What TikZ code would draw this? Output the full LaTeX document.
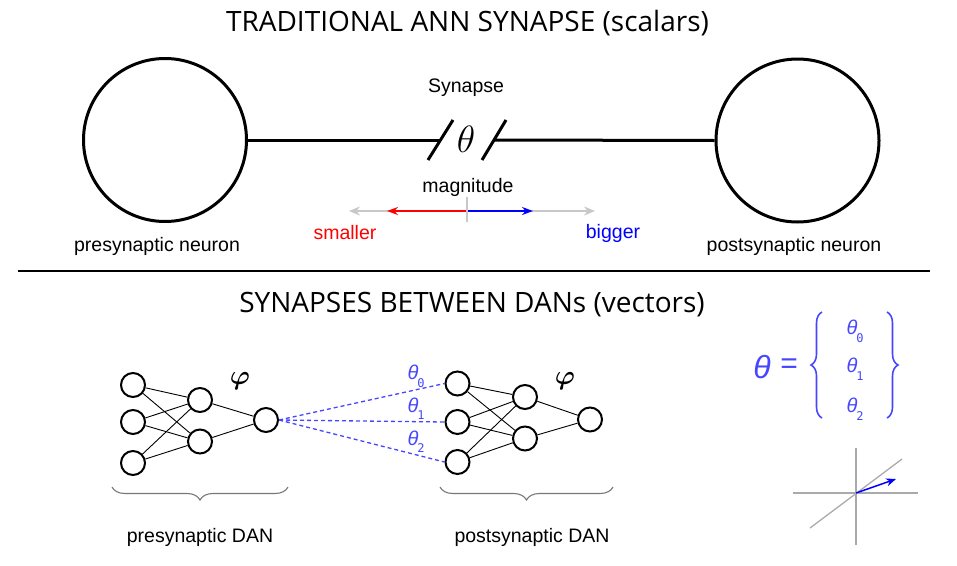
\RequirePackage{fix-cm}
\documentclass[tikz,border=0pt]{standalone}
\usepackage{fontspec}
\usepackage{amsmath}
\setmainfont{Liberation Sans}
\newfontfamily\titlefont{Open Sans}
\newfontfamily\monofont{DejaVu Sans Mono}
\usetikzlibrary{arrows.meta,decorations.pathreplacing}
\definecolor{lblue}{RGB}{70,70,255}
\definecolor{lgray}{RGB}{200,200,200}
\definecolor{agray}{RGB}{170,170,170}
\definecolor{bgray}{RGB}{120,120,120}
\tikzset{
  bignode/.style={circle, draw, line width=3pt, minimum size=163pt, inner sep=0pt},
  nn/.style={circle, draw, line width=2pt, minimum size=24pt, inner sep=0pt},
  conn/.style={line width=0.9pt},
  title/.style={font=\titlefont\fontsize{28}{32}\selectfont},
  lbl/.style={font=\fontsize{19.5}{22}\selectfont},
  syn/.style={dashed, dash pattern=on 4pt off 3pt, line width=1.3pt, lblue},
  thlbl/.style={font=\fontsize{20}{22}\selectfont\itshape, text=lblue},
  sublbl/.style={font=\monofont\fontsize{12}{14}\selectfont, text=lblue},
  gbrace/.style={decorate, decoration={brace, amplitude=13pt, mirror}, draw=bgray, line width=1.1pt},
  bbrace/.style={decorate, decoration={brace, amplitude=11pt}, draw=lblue, line width=1.6pt},
  phil/.style={font=\fontsize{27}{30}\selectfont\boldmath},
}
\begin{document}
\begin{tikzpicture}[x=1pt, y=-1pt]
\useasboundingbox (0,0) rectangle (957,565);
% top title
\node[title] (t1) at (467.5,23) {TRADITIONAL ANN SYNAPSE (scalars)};
% neurons
\node[bignode] (pre) at (165,140) {};
\node[bignode] (post) at (797.5,140.5) {};
\node[lbl] (prel) at (157,246) {presynaptic neuron};
\node[lbl] (postl) at (794,246) {postsynaptic neuron};
% synapse line
\coordinate (sa) at (441,140);
\coordinate (sb) at (494,140);
\draw[line width=3pt] (pre.east) -- (sa);
\draw[line width=3pt] (sb) -- (post.west);
\draw[line width=3pt] (428,160) -- (453,120);
\draw[line width=3pt] (482,160) -- (506,120);
\node[font=\fontsize{38}{40}\selectfont] (th) at (466,139) {$\theta$};
\node[lbl] (synl) at (466,88) {Synapse};
\node[lbl] (magl) at (468,187) {magnitude};
% magnitude arrows
\coordinate (m0) at (467,211);
\coordinate (gl) at (349,211);
\coordinate (gr) at (595,211);
\coordinate (rl) at (387,211);
\coordinate (br) at (533,211);
\draw[lgray, line width=1.8pt, {Stealth[length=11pt,width=9pt]}-{Stealth[length=11pt,width=9pt]}] (gl) -- (gr);
\draw[red, line width=1.8pt, -{Stealth[length=11pt,width=8pt]}] (m0) -- (rl);
\draw[blue, line width=1.8pt, -{Stealth[length=11pt,width=8pt]}] (m0) -- (br);
\draw[lgray, line width=1.6pt] (467,197) -- (467,222);
\node[lbl, text=red] (sm) at (345,233) {smaller};
\node[lbl, text=blue] (bg) at (613,233) {bigger};
% separator
\draw[line width=1.5pt] (18,271) -- (930,271);
\node[title] (t2) at (472,305) {SYNAPSES BETWEEN DANs (vectors)};
% left network
\node[nn] (a1) at (133,385) {};
\node[nn] (a2) at (133,422) {};
\node[nn] (a3) at (133,463) {};
\node[nn] (h1) at (200,400) {};
\node[nn] (h2) at (200,441.5) {};
\node[nn] (o) at (266,420) {};
\foreach \i in {a1,a2,a3}{\foreach \j in {h1,h2}{\draw[conn] (\i) -- (\j);}}
\draw[conn] (h1) -- (o);
\draw[conn] (h2) -- (o);
\node[phil] (phi1) at (240,381) {$\varphi$};
% right network
\node[nn] (b1) at (457.5,383.5) {};
\node[nn] (b2) at (457.5,422) {};
\node[nn] (b3) at (457.5,462) {};
\node[nn] (k1) at (525,397) {};
\node[nn] (k2) at (525,438.5) {};
\node[nn] (p) at (590,419.5) {};
\foreach \i in {b1,b2,b3}{\foreach \j in {k1,k2}{\draw[conn] (\i) -- (\j);}}
\draw[conn] (k1) -- (p);
\draw[conn] (k2) -- (p);
\node[phil] (phi2) at (565,381) {$\varphi$};
% synapses
\draw[syn] (o.east) -- (b1.west);
\draw[syn] (o.east) -- (b2.west);
\draw[syn] (o.east) -- (b3.west);
\node[thlbl] (q0) at (413,372) {θ};
\node[sublbl] (q0s) at (421,383) {0};
\node[thlbl] (q1) at (413,405) {θ};
\node[sublbl] (q1s) at (421,415) {1};
\node[thlbl] (q2) at (413,438) {θ};
\node[sublbl] (q2s) at (421,448) {2};
% braces
\draw[gbrace] (112,487) -- (288,487);
\draw[gbrace] (440,487) -- (613,487);
\node[lbl] (prd) at (200,537) {presynaptic DAN};
\node[lbl] (pod) at (532,537) {postsynaptic DAN};
% vector
\node[font=\fontsize{32}{34}\selectfont\itshape, text=lblue] (bt) at (762,367) {θ};
\node[font=\fontsize{30}{32}\selectfont, text=lblue] (eq) at (789,366) {=};
\draw[bbrace] (822,418) -- (822,312);
\draw[bbrace] (887,312) -- (887,418);
\node[thlbl] (v0) at (852,327) {θ};
\node[sublbl] (v0s) at (860,338) {0};
\node[thlbl] (v1) at (852,365) {θ};
\node[sublbl] (v1s) at (860,376) {1};
\node[thlbl] (v2) at (852,405) {θ};
\node[sublbl] (v2s) at (860,416) {2};
% axes
\coordinate (or) at (856,493);
\draw[agray, line width=1.3pt] (856,448) -- (856,545);
\draw[agray, line width=1.3pt] (793,493) -- (918,493);
\draw[agray, line width=1.3pt] (810,528) -- (902,459);
\draw[blue, line width=1.5pt, -{Stealth[length=10pt,width=8pt]}] (or) -- (896,479);
\end{tikzpicture}
\end{document}
